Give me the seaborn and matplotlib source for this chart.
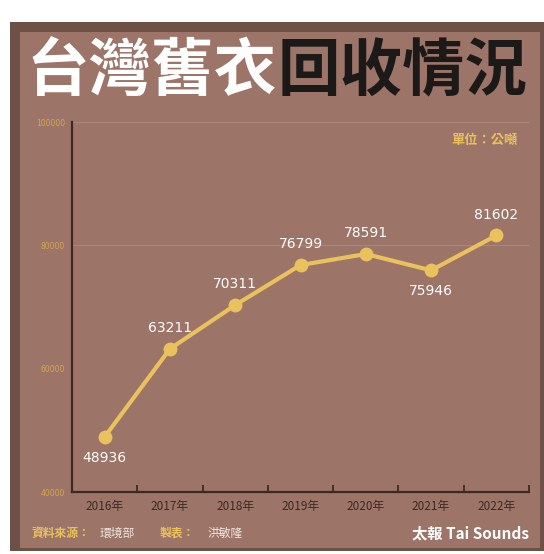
import matplotlib
matplotlib.use("Agg")
import matplotlib.pyplot as plt
import seaborn as sns
from matplotlib.patches import Rectangle
from matplotlib.ticker import FixedLocator

years = ["2016年", "2017年", "2018年", "2019年", "2020年", "2021年", "2022年"]
tons = [48936, 63211, 70311, 76799, 78591, 75946, 81602]
label_pos = ["below", "above", "above", "above", "above", "below", "above"]
y_ticks = [40000, 60000, 80000, 100000]

FRAME = "#6d5046"
PANEL = "#9c7468"
GOLD = "#e9c25e"
TICKGOLD = "#d7a64e"
DARK = "#3b2a22"

sns.set_theme(style="white")
plt.rcParams["font.family"] = ["Noto Sans CJK TC", "DejaVu Sans"]

fig = plt.figure(figsize=(5.44, 5.54), dpi=100)
fig.patch.set_facecolor("white")
W, H = 544, 554
fig.add_artist(Rectangle((10 / W, 3 / H), 534 / W, 529 / H, transform=fig.transFigure,
                         facecolor=FRAME, edgecolor="none", zorder=0))
fig.add_artist(Rectangle((20 / W, 6 / H), 520 / W, 516 / H, transform=fig.transFigure,
                         facecolor=PANEL, edgecolor="none", zorder=0))

ax = fig.add_axes([72 / W, 1 - 492 / H, 457 / W, 370 / H])
ax.set_facecolor("none")

sns.lineplot(x=years, y=tons, ax=ax, color=GOLD, linewidth=3, marker="o",
             markersize=10, markeredgewidth=0, sort=False)

ax.set_xlim(-0.5, len(years) - 0.5)
ax.set_ylim(40000, 100000)
ax.set_yticks(y_ticks)
ax.set_yticklabels([str(v) for v in y_ticks], color=TICKGOLD, fontsize=5.5,
                   family="DejaVu Sans")
ax.tick_params(axis="y", length=0, pad=5)
ax.set_xticks(range(len(years)))
ax.set_xticklabels(years, color=DARK, fontsize=8.5)
ax.tick_params(axis="x", which="major", length=0, pad=6)
ax.xaxis.set_minor_locator(FixedLocator([i + 0.5 for i in range(len(years))]))
ax.tick_params(axis="x", which="minor", direction="in", length=5, width=1.3,
               color=DARK, bottom=True)
ax.set_xlabel("")
ax.set_ylabel("")

for yv in [80000, 100000]:
    ax.axhline(yv, color="#ad877b", linewidth=0.8, zorder=0)

for s in ["top", "right"]:
    ax.spines[s].set_visible(False)
for s in ["left", "bottom"]:
    ax.spines[s].set_color(DARK)
    ax.spines[s].set_linewidth(1.6)

for i, (v, p) in enumerate(zip(tons, label_pos)):
    off = 10 if p == "above" else -10
    ax.annotate(str(v), (i, v), xytext=(0, off), textcoords="offset points",
                ha="center", va="bottom" if p == "above" else "top",
                color="white", fontsize=10, family="DejaVu Sans")

fig.text(0.509, 1 - 72 / H, "台灣舊衣", ha="right", va="center", color="white",
         fontsize=45, fontweight="black")
fig.text(0.511, 1 - 72 / H, "回收情況", ha="left", va="center", color="#1c1a19",
         fontsize=45, fontweight="black")

fig.text(518 / W, 1 - 140 / H, "單位：公噸", ha="right", va="center", color=GOLD,
         fontsize=9.5, fontweight="bold")

fig.text(32 / W, 1 - 533 / H, "資料來源：", ha="left", va="center", color=GOLD,
         fontsize=8.5, fontweight="bold")
fig.text(100 / W, 1 - 533 / H, "環境部", ha="left", va="center", color="#f0e6e0",
         fontsize=8.5)
fig.text(160 / W, 1 - 533 / H, "製表：", ha="left", va="center", color=GOLD,
         fontsize=8.5, fontweight="bold")
fig.text(208 / W, 1 - 533 / H, "洪敏隆", ha="left", va="center", color="#f0e6e0",
         fontsize=8.5)
fig.text(529 / W, 1 - 533 / H, "太報 Tai Sounds", ha="right", va="center",
         color="white", fontsize=11, fontweight="bold")

fig.savefig("out.png", dpi=100)
